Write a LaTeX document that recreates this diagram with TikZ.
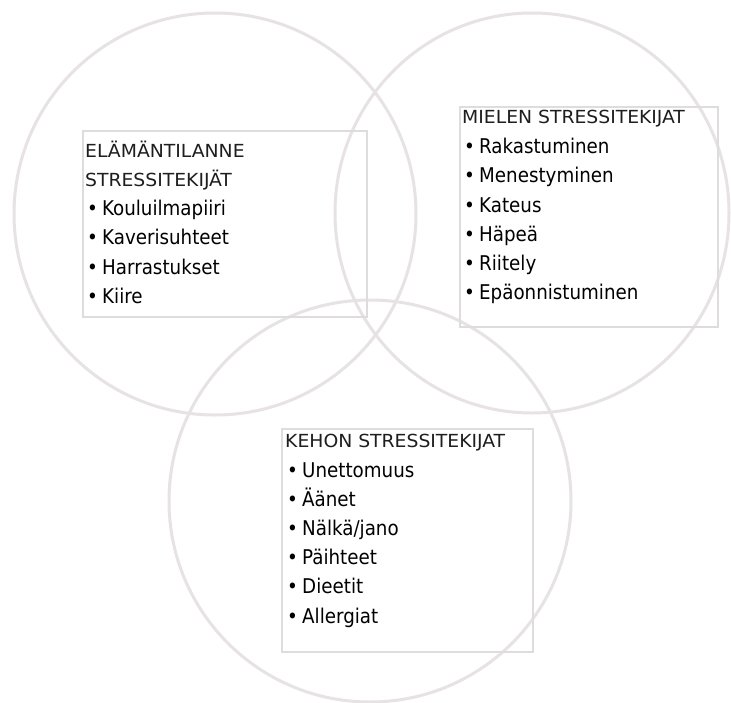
\documentclass[tikz,border=0pt]{standalone}
\usepackage{fontspec}
\setmainfont{DejaVu Sans Condensed}
\begin{document}
\begin{tikzpicture}[x=1pt,y=-1pt,
  ring/.style={draw=ringgray,line width=3pt},
  listbox/.style={draw=boxgray,line width=2.4pt},
  title/.style={anchor=base west,inner sep=0pt,text=titlegray,font=\fontsize{18}{18}\selectfont},
  item/.style={anchor=base west,inner sep=0pt,text=black,font=\fontsize{20.3}{20}\selectfont}]
\definecolor{ringgray}{RGB}{231,227,228}
\definecolor{boxgray}{RGB}{222,220,221}
\definecolor{titlegray}{RGB}{30,30,30}
\useasboundingbox[fill=white] (0,0) rectangle (731,702);
% circles
\draw[ring] (215,214) circle[radius=201];
\draw[ring] (532,213) ellipse[x radius=197,y radius=200];
\draw[ring] (370,501) circle[radius=201];
% boxes
\draw[listbox] (83,131) rectangle (367,317);
\draw[listbox] (460,107) rectangle (718,327);
\draw[listbox] (282,429) rectangle (533,652);
\newcommand{\bul}[1]{\makebox[15pt][l]{•}#1}
\newcommand{\ttl}[1]{\scalebox{1.16}[1]{#1}}
% left box
\node[title] (l0) at (85,157) {\ttl{ELÄMÄNTILANNE}};
\node[title] (l1) at (85,186) {\ttl{STRESSITEKIJÄT}};
\node[item] (l2) at (87,215) {\bul{Kouluilmapiiri}};
\node[item] (l3) at (87,244) {\bul{Kaverisuhteet}};
\node[item] (l4) at (87,274) {\bul{Harrastukset}};
\node[item] (l5) at (87,303) {\bul{Kiire}};
% right box
\node[title] (r0) at (462,123) {\ttl{MIELEN STRESSITEKIJAT}};
\node[item] (r1) at (464,153) {\bul{Rakastuminen}};
\node[item] (r2) at (464,182) {\bul{Menestyminen}};
\node[item] (r3) at (464,212) {\bul{Kateus}};
\node[item] (r4) at (464,241) {\bul{Häpeä}};
\node[item] (r5) at (464,270) {\bul{Riitely}};
\node[item] (r6) at (464,299) {\bul{Epäonnistuminen}};
% bottom box
\node[title] (b0) at (285,447) {\ttl{KEHON STRESSITEKIJAT}};
\node[item] (b1) at (287,477) {\bul{Unettomuus}};
\node[item] (b2) at (287,506) {\bul{Äänet}};
\node[item] (b3) at (287,535) {\bul{Nälkä/jano}};
\node[item] (b4) at (287,564) {\bul{Päihteet}};
\node[item] (b5) at (287,593) {\bul{Dieetit}};
\node[item] (b6) at (287,623) {\bul{Allergiat}};
\end{tikzpicture}
\end{document}
